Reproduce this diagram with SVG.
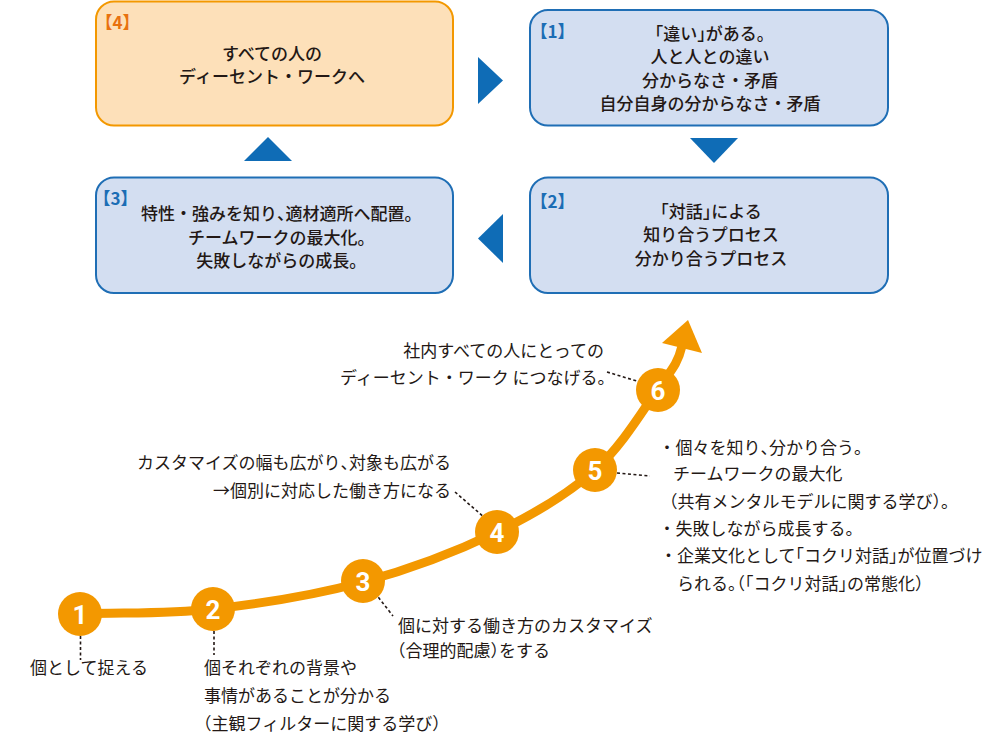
<svg xmlns="http://www.w3.org/2000/svg" width="989" height="741" viewBox="0 0 989 741">
<style>
text{font-family:"Noto Sans CJK JP","Noto Sans CJK SC",sans-serif;fill:#231815;}
.ann{font-size:17px;font-weight:400;}
.bx{font-size:17px;font-weight:500;text-anchor:middle;}
.h{font-feature-settings:"halt";}
.lblb{font-size:17px;font-weight:700;fill:#1b6db5;font-feature-settings:"halt";}
.lblo{font-size:17px;font-weight:700;fill:#e8710f;font-feature-settings:"halt";}
.blue{fill:#d3def1;stroke:#1f6eb5;stroke-width:2;}
.peach{fill:#fde0b9;stroke:#f39800;stroke-width:2;}
.tri{fill:#0f6cb6;}
.dot{fill:none;stroke:#231815;stroke-width:1.6;stroke-dasharray:3 2.5;}
.circ{fill:#f39800;}
.num{font-family:Roboto,"Liberation Sans",sans-serif;font-size:26px;font-weight:700;fill:#ffffff;text-anchor:middle;}
</style>

<g id="box4">
<rect class="peach" x="96" y="1.5" width="357" height="124" rx="18"/>
<text class="lblo" x="104" y="29">【4】</text>
<text class="bx" x="272" y="59.5">すべての人の</text>
<text class="bx" x="272" y="82.5">ディーセント・ワークへ</text>
</g>

<g id="box1">
<rect class="blue" x="530" y="10" width="358" height="115.5" rx="18"/>
<text class="lblb" x="539" y="38">【1】</text>
<text class="bx" x="710" y="39.5"><tspan class="h">「</tspan>違い<tspan class="h">」</tspan>がある<tspan class="h">。</tspan></text>
<text class="bx" x="710" y="63">人と人との違い</text>
<text class="bx" x="710" y="86.5">分からなさ・矛盾</text>
<text class="bx" x="710" y="110">自分自身の分からなさ・矛盾</text>
</g>

<g id="box2">
<rect class="blue" x="530" y="177.5" width="358" height="115.5" rx="18"/>
<text class="lblb" x="539" y="208">【2】</text>
<text class="bx" x="711" y="217.5"><tspan class="h">「</tspan>対話<tspan class="h">」</tspan>による</text>
<text class="bx" x="711" y="241">知り合うプロセス</text>
<text class="bx" x="711" y="264.5">分かり合うプロセス</text>
</g>

<g id="box3">
<rect class="blue" x="96" y="177.5" width="357" height="115.5" rx="18"/>
<text class="lblb" x="102" y="205">【3】</text>
<text class="bx" x="277" y="219.5">特性・強みを知り<tspan class="h">、</tspan>適材適所へ配置<tspan class="h">。</tspan></text>
<text class="bx" x="277" y="243.5">チームワークの最大化<tspan class="h">。</tspan></text>
<text class="bx" x="277" y="267">失敗しながらの成長<tspan class="h">。</tspan></text>
</g>

<g id="cycle-arrows">
<polygon class="tri" points="478,57 503,80.5 478,104"/>
<polygon class="tri" points="690,138 738,138 714,163"/>
<polygon class="tri" points="503,214 478,238.5 503,263"/>
<polygon class="tri" points="268,137 292,161 244,161"/>
</g>

<g id="connectors">
<path d="M80,614 C124.3,612.3 165.8,614.3 213,609 C260.2,603.7 315.7,594.8 363,582 C410.3,569.2 458.3,550.7 497,532 C535.7,513.3 568.2,493.8 595,470 C621.8,446.2 643.5,409.3 658,389 C672.5,368.7 678,363 682,346" fill="none" stroke="#f39800" stroke-width="9" stroke-linecap="butt"/>
<polygon points="688,320 702,353 662,343" fill="#f39800"/>
<line class="dot" x1="80.5" y1="636" x2="80.5" y2="660"/>
<line class="dot" x1="214" y1="631" x2="214" y2="655"/>
<line class="dot" x1="375" y1="593" x2="393" y2="616"/>
<line class="dot" x1="455" y1="492" x2="485" y2="518"/>
<line class="dot" x1="617" y1="473" x2="650" y2="476"/>
<line class="dot" x1="607" y1="372" x2="640" y2="382"/>
</g>

<g id="step1"><circle class="circ" cx="80" cy="614" r="22"/><text class="num" x="80" y="623.5">1</text></g>
<g id="step2"><circle class="circ" cx="213" cy="609" r="22"/><text class="num" x="213" y="618.5">2</text></g>
<g id="step3"><circle class="circ" cx="363" cy="581" r="22"/><text class="num" x="363" y="590.5">3</text></g>
<g id="step4"><circle class="circ" cx="497" cy="532" r="22"/><text class="num" x="497" y="541.5">4</text></g>
<g id="step5"><circle class="circ" cx="595" cy="470" r="22"/><text class="num" x="595" y="479.5">5</text></g>
<g id="step6"><circle class="circ" cx="658" cy="390" r="22"/><text class="num" x="658" y="399.5">6</text></g>

<g id="note1">
<text class="ann" x="30" y="673.5">個として捉える</text>
</g>
<g id="note2">
<text class="ann" x="204" y="673.5">個それぞれの背景や</text>
<text class="ann" x="204" y="701.5">事情があることが分かる</text>
<text class="ann" x="203" y="729.5"><tspan class="h">（</tspan>主観フィルターに関する学び<tspan class="h">）</tspan></text>
</g>
<g id="note3">
<text class="ann" x="398" y="631.5">個に対する働き方のカスタマイズ</text>
<text class="ann" x="397" y="656.5"><tspan class="h">（</tspan>合理的配慮<tspan class="h">）</tspan>をする</text>
</g>
<g id="note4">
<text class="ann" x="451" y="468.5" text-anchor="end">カスタマイズの幅も広がり<tspan class="h">、</tspan>対象も広がる</text>
<text class="ann" x="451" y="496.5" text-anchor="end">→個別に対応した働き方になる</text>
</g>
<g id="note5">
<text class="ann" x="658.5" y="453.5">・個々を知り<tspan class="h">、</tspan>分かり合う<tspan class="h">。</tspan></text>
<text class="ann" x="673" y="479.5">チームワークの最大化</text>
<text class="ann" x="669" y="507.5"><tspan class="h">（</tspan>共有メンタルモデルに関する学び<tspan class="h">）。</tspan></text>
<text class="ann" x="658.5" y="534.5">・失敗しながら成長する<tspan class="h">。</tspan></text>
<text class="ann" x="660" y="561.5">・企業文化として<tspan class="h">「</tspan>コクリ対話<tspan class="h">」</tspan>が位置づけ</text>
<text class="ann" x="677" y="589.5">られる<tspan class="h">。（「</tspan>コクリ対話<tspan class="h">」</tspan>の常態化<tspan class="h">）</tspan></text>
</g>
<g id="note6">
<text class="ann" x="604" y="356.5" text-anchor="end">社内すべての人にとっての</text>
<text class="ann" x="606" y="383.5" text-anchor="end">ディーセント・ワーク につなげる<tspan class="h">。</tspan></text>
</g>
</svg>
